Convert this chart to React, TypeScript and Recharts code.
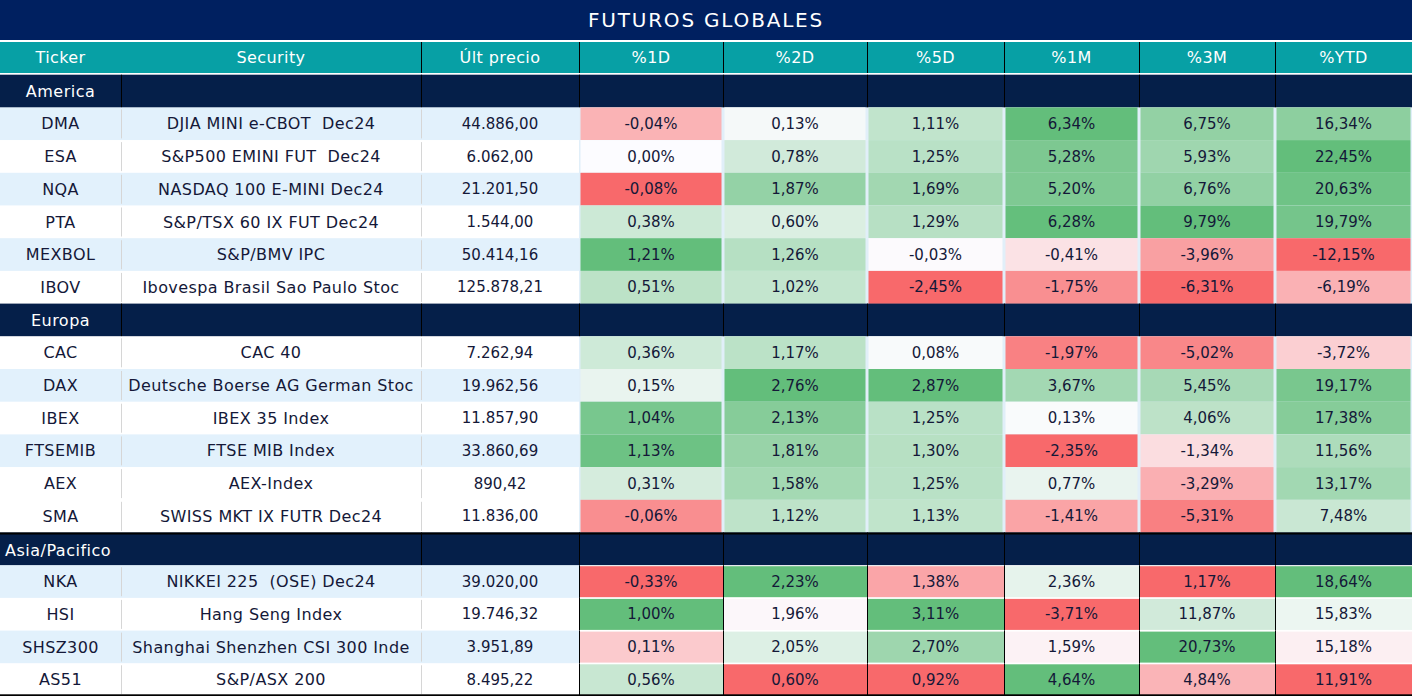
import { Bar, BarChart, XAxis, YAxis } from 'recharts';

const TITLE = 'FUTUROS GLOBALES';
const HEADERS = ['Ticker', 'Security', 'Últ precio', '%1D', '%2D', '%5D', '%1M', '%3M', '%YTD'];
const REGIONS = ['America', 'Europa', 'Asia/Pacifico'];
const REGION_SIZE = [6, 6, 4];

const TICKERS = ['DMA', 'ESA', 'NQA', 'PTA', 'MEXBOL', 'IBOV', 'CAC', 'DAX', 'IBEX', 'FTSEMIB', 'AEX', 'SMA', 'NKA', 'HSI', 'SHSZ300', 'AS51'];
const SECURITIES = [
  'DJIA MINI e-CBOT  Dec24',
  'S&P500 EMINI FUT  Dec24',
  'NASDAQ 100 E-MINI Dec24',
  'S&P/TSX 60 IX FUT Dec24',
  'S&P/BMV IPC',
  'Ibovespa Brasil Sao Paulo Stoc',
  'CAC 40',
  'Deutsche Boerse AG German Stoc',
  'IBEX 35 Index',
  'FTSE MIB Index',
  'AEX-Index',
  'SWISS MKT IX FUTR Dec24',
  'NIKKEI 225  (OSE) Dec24',
  'Hang Seng Index',
  'Shanghai Shenzhen CSI 300 Inde',
  'S&P/ASX 200',
];
const PRICES = [44886.0, 6062.0, 21201.5, 1544.0, 50414.16, 125878.21, 7262.94, 19962.56, 11857.9, 33860.69, 890.42, 11836.0, 39020.0, 19746.32, 3951.89, 8495.22];
const CHG_1D = [-0.04, 0.0, -0.08, 0.38, 1.21, 0.51, 0.36, 0.15, 1.04, 1.13, 0.31, -0.06, -0.33, 1.0, 0.11, 0.56];
const CHG_2D = [0.13, 0.78, 1.87, 0.6, 1.26, 1.02, 1.17, 2.76, 2.13, 1.81, 1.58, 1.12, 2.23, 1.96, 2.05, 0.6];
const CHG_5D = [1.11, 1.25, 1.69, 1.29, -0.03, -2.45, 0.08, 2.87, 1.25, 1.3, 1.25, 1.13, 1.38, 3.11, 2.7, 0.92];
const CHG_1M = [6.34, 5.28, 5.2, 6.28, -0.41, -1.75, -1.97, 3.67, 0.13, -2.35, 0.77, -1.41, 2.36, -3.71, 1.59, 4.64];
const CHG_3M = [6.75, 5.93, 6.76, 9.79, -3.96, -6.31, -5.02, 5.45, 4.06, -1.34, -3.29, -5.31, 1.17, 11.87, 20.73, 4.84];
const CHG_YTD = [16.34, 22.45, 20.63, 19.79, -12.15, -6.19, -3.72, 19.17, 17.38, 11.56, 13.17, 7.48, 18.64, 15.83, 15.18, 11.91];
const CHANGES = [CHG_1D, CHG_2D, CHG_5D, CHG_1M, CHG_3M, CHG_YTD];

// layout / style
const W = 1412;
const COL_EDGES = [0, 121, 421, 579, 723, 867, 1004, 1139, 1275, 1412];
const SHADED = new Set(['DMA', 'NQA', 'MEXBOL', 'DAX', 'FTSEMIB', 'NKA', 'SHSZ300']);
// colour scale groups: America+Europa share a scale centred on 0, Asia uses its median
const SCALE_GROUPS = [
  { regions: [0, 1], mid: 'zero' },
  { regions: [2], mid: 'median' },
];

const NAVY = '#002060';
const SECTION = '#051f49';
const TEAL = '#07a0a5';
const INK = '#141838';
const STRIPE = '#e2f1fc';
const FONT = '"DejaVu Sans", sans-serif';

const RED = [248, 105, 107];
const WHITE = [252, 252, 255];
const GREEN = [99, 190, 123];

const REGION_OF: number[] = [];
REGION_SIZE.forEach((n, r) => {
  for (let i = 0; i < n; i++) REGION_OF.push(r);
});

function fmtPct(v: number) {
  return v.toFixed(2).replace('.', ',') + '%';
}

function fmtPrice(v: number) {
  const [i, d] = v.toFixed(2).split('.');
  return i.replace(/\B(?=(\d{3})+(?!\d))/g, '.') + ',' + d;
}

function mix(a: number[], b: number[], t: number) {
  const c = a.map((x, k) => Math.round(x + (b[k] - x) * t));
  return `rgb(${c[0]},${c[1]},${c[2]})`;
}

function heatColor(values: number[], gi: number) {
  const group = SCALE_GROUPS.find((g) => g.regions.includes(REGION_OF[gi]))!;
  const vals = values.filter((_, i) => group.regions.includes(REGION_OF[i]));
  const min = Math.min(...vals);
  const max = Math.max(...vals);
  let mid = 0;
  if (group.mid === 'median') {
    const s = [...vals].sort((a, b) => a - b);
    const n = s.length;
    mid = n % 2 ? s[(n - 1) / 2] : (s[n / 2 - 1] + s[n / 2]) / 2;
  }
  const v = values[gi];
  if (v >= mid) return mix(WHITE, GREEN, max > mid ? (v - mid) / (max - mid) : 0);
  return mix(WHITE, RED, mid > min ? (mid - v) / (mid - min) : 0);
}

type Row = { key: string; kind: 'header' | 'section' | 'data'; region: number; gi: number; [k: string]: any };

const ROWS: Row[] = [];
const widths = (r: Row) => {
  for (let c = 0; c < HEADERS.length; c++) r[`w${c}`] = COL_EDGES[c + 1] - COL_EDGES[c];
  return r;
};
ROWS.push(widths({ key: 'header', kind: 'header', region: -1, gi: -1 }));
let g = 0;
REGIONS.forEach((name, r) => {
  ROWS.push(widths({ key: name, kind: 'section', region: r, gi: -1 }));
  for (let i = 0; i < REGION_SIZE[r]; i++) {
    ROWS.push(widths({ key: TICKERS[g], kind: 'data', region: r, gi: g }));
    g++;
  }
});
const LAST_GI = TICKERS.length - 1;

function Label({ x, y, text, color = INK, size = 15, spacing = 0, anchor = 'middle' }: any) {
  return (
    <text
      x={x}
      y={y}
      fill={color}
      fontSize={size}
      fontFamily={FONT}
      textAnchor={anchor}
      dominantBaseline="central"
      letterSpacing={spacing}
      style={{ whiteSpace: 'pre' }}
    >
      {text}
    </text>
  );
}

function renderCell(p: any, ci: number) {
  const { x, y, width: w, height: h, payload } = p;
  const row = payload as Row;
  const cx = x + w / 2;
  const cy = y + h / 2;

  if (row.kind === 'header') {
    return (
      <g>
        <rect x={x} y={y} width={w} height={h - 2} fill={TEAL} />
        {ci >= 2 && <rect x={x} y={y} width={1} height={h - 2} fill="#000" />}
        <Label x={cx} y={y + (h - 2) / 2} text={HEADERS[ci]} color="#fff" size={16} spacing={0.4} />
      </g>
    );
  }

  if (row.kind === 'section') {
    const asia = row.region === 2;
    const name = REGIONS[row.region];
    const overflow = name.length * 9.5 > w;
    return (
      <g>
        <rect x={x} y={y} width={w} height={h} fill={SECTION} />
        {asia && <rect x={x} y={y} width={w} height={2} fill="#000" />}
        {ci >= 1 && !(asia && ci === 1) && <rect x={x} y={y} width={1} height={h} fill="#000" />}
        {ci === 0 && (
          <Label
            x={overflow ? x + 5 : cx}
            anchor={overflow ? 'start' : 'middle'}
            y={cy + (asia ? 1 : 0)}
            text={name}
            color="#fff"
            size={16}
            spacing={0.5}
          />
        )}
      </g>
    );
  }

  const gi = row.gi;
  const asia = row.region === 2;
  const last = gi === LAST_GI;
  const bottom = last ? <rect x={x} y={y + h - 2} width={w} height={2} fill="#000" /> : null;

  if (ci < 3) {
    const bg = SHADED.has(TICKERS[gi]) ? STRIPE : '#fff';
    const text = ci === 0 ? TICKERS[gi] : ci === 1 ? SECURITIES[gi] : fmtPrice(PRICES[gi]);
    return (
      <g>
        <rect x={x} y={y} width={w} height={h} fill={bg} />
        {ci >= 1 && <rect x={x} y={y + 2} width={1} height={h - 4} fill="#d6d6d6" />}
        <Label x={cx} y={cy} text={text} size={ci === 2 ? 15 : 16} spacing={ci === 2 ? 0 : 0.4} />
        {bottom}
      </g>
    );
  }

  const values = CHANGES[ci - 3];
  const fill = heatColor(values, gi);
  if (asia) {
    return (
      <g>
        <rect x={x} y={y} width={w} height={h} fill="#fff" />
        <rect x={x} y={y + 1} width={w} height={h - 2} fill={fill} />
        <rect x={x} y={y} width={1} height={h} fill="#000" />
        <Label x={cx} y={cy} text={fmtPct(values[gi])} />
        {bottom}
      </g>
    );
  }
  return (
    <g>
      <rect x={x} y={y} width={w} height={h} fill="#e1eff9" />
      <rect x={x + 1.5} y={y} width={w - 3} height={h} fill={fill} />
      <Label x={cx} y={cy} text={fmtPct(values[gi])} />
    </g>
  );
}

export default function App() {
  return (
    <div style={{ position: 'absolute', left: 0, top: 0, width: W, background: '#fff' }}>
      <div
        style={{
          height: 40,
          background: NAVY,
          color: '#fff',
          fontFamily: FONT,
          fontSize: 20,
          letterSpacing: 1.8,
          lineHeight: '40px',
          textAlign: 'center',
          marginBottom: 2,
        }}
      >
        {TITLE}
      </div>
      <BarChart
        layout="vertical"
        width={W}
        height={654}
        data={ROWS}
        margin={{ top: 0, right: 0, bottom: 0, left: 0 }}
        barCategoryGap={0}
        barGap={0}
      >
        <XAxis type="number" hide domain={[0, W]} allowDataOverflow />
        <YAxis type="category" dataKey="key" hide />
        {HEADERS.map((_, ci) => (
          <Bar
            key={ci}
            dataKey={`w${ci}`}
            stackId="t"
            isAnimationActive={false}
            shape={(p: any) => renderCell(p, ci)}
          />
        ))}
      </BarChart>
    </div>
  );
}
